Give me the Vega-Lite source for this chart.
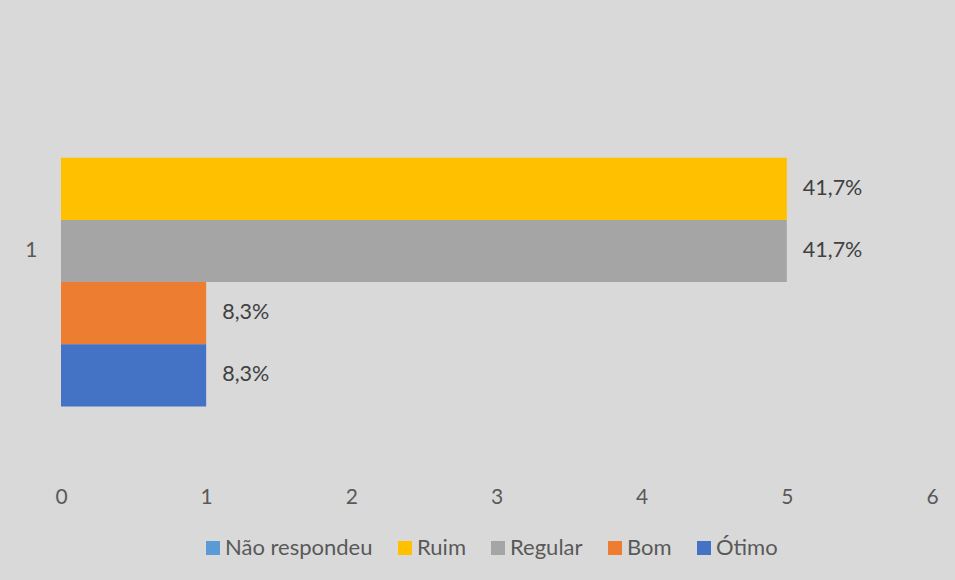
{
  "$schema": "https://vega.github.io/schema/vega-lite/v6.json",
  "width": 871,
  "height": 440,
  "autosize": "none",
  "padding": {"left": 61, "top": 31, "right": 23, "bottom": 109},
  "background": "#d9d9d9",
  "config": {
    "view": {"stroke": null},
    "font": "Lato",
    "axis": {"labelFont": "Lato", "labelColor": "#595959", "labelFontSize": 21, "grid": false, "ticks": false, "domain": false}
  },
  "data": {
    "values": [
      {"cat": "1", "serie": "Não respondeu", "valor": 0, "rotulo": ""},
      {"cat": "1", "serie": "Ruim", "valor": 5, "rotulo": "41,7%"},
      {"cat": "1", "serie": "Regular", "valor": 5, "rotulo": "41,7%"},
      {"cat": "1", "serie": "Bom", "valor": 1, "rotulo": "8,3%"},
      {"cat": "1", "serie": "Ótimo", "valor": 1, "rotulo": "8,3%"}
    ]
  },
  "encoding": {
    "x": {
      "field": "valor", "type": "quantitative",
      "scale": {"domain": [0, 6], "nice": false},
      "axis": {"title": null, "values": [0, 1, 2, 3, 4, 5, 6], "labelPadding": 15, "labelFlush": false}
    },
    "y": {
      "field": "cat", "type": "nominal",
      "scale": {"paddingOuter": 0.207, "paddingInner": 0},
      "axis": {"title": null, "labelPadding": 24, "labelAngle": 0}
    },
    "yOffset": {
      "field": "serie", "type": "nominal",
      "sort": ["Não respondeu", "Ruim", "Regular", "Bom", "Ótimo"],
      "scale": {"paddingInner": 0, "paddingOuter": 0}
    }
  },
  "layer": [
    {
      "mark": {"type": "bar"},
      "encoding": {
        "color": {
          "field": "serie", "type": "nominal",
          "sort": ["Não respondeu", "Ruim", "Regular", "Bom", "Ótimo"],
          "scale": {
            "domain": ["Não respondeu", "Ruim", "Regular", "Bom", "Ótimo"],
            "range": ["#5b9bd5", "#ffc000", "#a5a5a5", "#ed7d31", "#4472c4"]
          },
          "legend": {
            "title": null,
            "orient": "none",
            "direction": "horizontal",
            "legendX": 141,
            "legendY": 506,
            "symbolType": "square",
            "symbolSize": 196,
            "symbolStrokeWidth": 0,
            "symbolOpacity": 1,
            "labelFontSize": 22,
            "labelFont": "Lato",
            "labelColor": "#595959",
            "labelOffset": 1,
            "columnPadding": 21,
            "columns": 5
          }
        }
      }
    },
    {
      "transform": [{"filter": "datum.valor > 0"}],
      "mark": {"type": "text", "align": "left", "baseline": "middle", "dx": 16, "fontSize": 21.5, "font": "Lato", "color": "#404040"},
      "encoding": {
        "text": {"field": "rotulo", "type": "nominal"}
      }
    }
  ]
}
